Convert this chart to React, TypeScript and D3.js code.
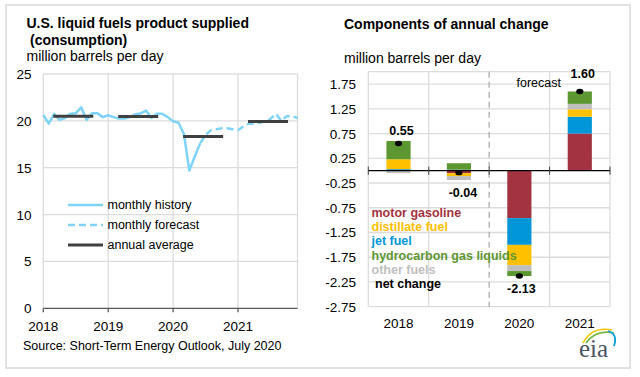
import React from 'react';
import * as d3 from 'd3';

// ---------- Left chart data ----------
const years = ['2018', '2019', '2020', '2021'];
// Jan 2018 - Jun 2020 (history)
const monthlyHistory = [
  20.64, 19.7, 20.75, 20.1, 20.3, 20.75, 20.8, 21.45, 20.1, 20.8, 20.8, 20.4,
  20.6, 20.4, 20.25, 20.25, 20.4, 20.7, 20.8, 21.1, 20.3, 20.75, 20.75, 20.4,
  19.95, 19.8, 18.6, 14.7, 16.2, 17.6,
];
// Jul 2020 - Dec 2021 (forecast)
const monthlyForecast = [
  18.5, 19.0, 19.1, 19.2, 19.2, 19.1,
  19.0, 19.4, 19.7, 19.7, 19.8, 20.0, 20.2, 20.75, 20.0, 20.5, 20.5, 20.3,
];
const annualAverage = [20.5, 20.46, 18.33, 19.93];
const leftYTicks = [0, 5, 10, 15, 20, 25];

// ---------- Right chart data ----------
const motorGasoline = [0.0, -0.05, -0.96, 0.75];
const jetFuel = [0.03, 0.02, -0.54, 0.34];
const distillateFuel = [0.2, -0.06, -0.41, 0.15];
const otherFuels = [-0.05, -0.08, -0.12, 0.11];
const hydrocarbonGasLiquids = [0.37, 0.13, -0.1, 0.25];
const netChange = [0.55, -0.04, -2.13, 1.6];
const netLabels = ['0.55', '-0.04', '-2.13', '1.60'];
const rightYTicks = [1.75, 1.25, 0.75, 0.25, -0.25, -0.75, -1.25, -1.75, -2.25, -2.75];

const stackKeys = ['mg', 'jet', 'dist', 'other', 'hgl'];
const colors: Record<string, string> = {
  mg: '#a33340',
  jet: '#0096d7',
  dist: '#ffc000',
  other: '#bfbfbf',
  hgl: '#5d9732',
};
const legendItems = [
  { label: 'motor gasoline', color: '#a33340' },
  { label: 'distillate fuel', color: '#ffc000' },
  { label: 'jet fuel', color: '#0096d7' },
  { label: 'hydrocarbon gas liquids', color: '#5d9732' },
  { label: 'other fuels', color: '#bfbfbf' },
  { label: 'net change', color: '#000000' },
];

const FONT = '"Liberation Sans", Arial, sans-serif';
const GRID = '#dcdcdc';
const LINE_BLUE = '#7fd3f7';

export default function App() {
  // Left scales
  const xL = d3.scaleLinear().domain([0, 47]).range([43.3, 297.5]);
  const yL = d3.scaleLinear().domain([0, 25]).range([308.3, 74]);
  const line = d3
    .line<number>()
    .x((_, i) => xL(i))
    .y((d) => yL(d));
  const histPath = line(monthlyHistory) || '';
  const fcData = [monthlyHistory[monthlyHistory.length - 1], ...monthlyForecast];
  const fcLine = d3
    .line<number>()
    .x((_, i) => xL(i + monthlyHistory.length - 1))
    .y((d) => yL(d));
  const fcPath = fcLine(fcData) || '';

  // Right scales
  const xR = d3.scaleBand<string>().domain(years).range([368.3, 610]).padding(0);
  const yR = d3.scaleLinear().domain([-2.75, 2.0]).range([306.7, 71.7]);
  const barW = xR.bandwidth() * 0.4;
  const table = years.map((y, i) => ({
    year: y,
    mg: motorGasoline[i],
    jet: jetFuel[i],
    dist: distillateFuel[i],
    other: otherFuels[i],
    hgl: hydrocarbonGasLiquids[i],
  }));
  const series = d3
    .stack<any>()
    .keys(stackKeys)
    .offset(d3.stackOffsetDiverging)(table);

  const plotL = 368.3;
  const plotR = 610;

  return (
    <svg
      width={640}
      height={377}
      style={{ position: 'absolute', left: 0, top: 0, background: '#fff' }}
      fontFamily={FONT}
    >
      <rect x={0} y={0} width={640} height={377} fill="#fff" />
      <rect x={6} y={5} width={624} height={363} fill="none" stroke="#d9d9d9" strokeWidth={1.5} />

      {/* ---------- Left chart ---------- */}
      <text x={26.5} y={28.3} fontSize={14} fontWeight="bold" fill="#000">
        U.S. liquid fuels product supplied
      </text>
      <text x={30} y={45} fontSize={14} fontWeight="bold" fill="#000">
        (consumption)
      </text>
      <text x={26.5} y={61} fontSize={14} fill="#000">
        million barrels per day
      </text>

      {leftYTicks.filter((t) => t > 0).map((t) => (
        <line key={t} x1={xL(0)} x2={xL(47)} y1={yL(t)} y2={yL(t)} stroke={GRID} strokeWidth={1.3} />
      ))}
      {years.map((y, i) => (
        <line key={y} x1={xL(i * 12)} x2={xL(i * 12)} y1={yL(25)} y2={yL(0)} stroke={GRID} strokeWidth={1.3} />
      ))}
      <line x1={xL(47)} x2={xL(47)} y1={yL(25)} y2={yL(0)} stroke={GRID} strokeWidth={1.3} />
      <line x1={xL(0)} x2={xL(47)} y1={yL(0)} y2={yL(0)} stroke="#595959" strokeWidth={1.3} />
      {years.map((y, i) => (
        <line key={'t' + y} x1={xL(i * 12)} x2={xL(i * 12)} y1={yL(0)} y2={yL(0) + 4} stroke="#595959" strokeWidth={1.3} />
      ))}
      {leftYTicks.map((t) => (
        <text key={t} x={31.5} y={yL(t) + 5} fontSize={13.5} textAnchor="end" fill="#000">
          {t}
        </text>
      ))}
      {years.map((y, i) => (
        <text key={'l' + y} x={xL(i * 12)} y={330.5} fontSize={13.5} textAnchor="middle" fill="#000">
          {y}
        </text>
      ))}

      <path d={histPath} fill="none" stroke={LINE_BLUE} strokeWidth={2.5} strokeLinejoin="round" />
      <path d={fcPath} fill="none" stroke={LINE_BLUE} strokeWidth={2.5} strokeDasharray="7,4" />
      {annualAverage.map((v, i) => (
        <line
          key={'a' + i}
          x1={xL(i * 12 + 1.85)}
          x2={xL(i * 12 + 9.25)}
          y1={yL(v)}
          y2={yL(v)}
          stroke="#404040"
          strokeWidth={3}
        />
      ))}

      {/* legend */}
      <line x1={68} x2={103} y1={205} y2={205} stroke={LINE_BLUE} strokeWidth={2.5} />
      <line x1={68} x2={103} y1={225} y2={225} stroke={LINE_BLUE} strokeWidth={2.5} strokeDasharray="7,4" />
      <line x1={68} x2={103} y1={245} y2={245} stroke="#404040" strokeWidth={3} />
      <text x={107.5} y={209.3} fontSize={12.5} fill="#000">monthly history</text>
      <text x={107.5} y={229.3} fontSize={12.5} fill="#000">monthly forecast</text>
      <text x={107.5} y={249.3} fontSize={12.5} fill="#000">annual average</text>

      <text x={23} y={350} fontSize={12.5} fill="#000">
        Source: Short-Term Energy Outlook, July 2020
      </text>

      {/* ---------- Right chart ---------- */}
      <text x={344} y={29.3} fontSize={14} fontWeight="bold" fill="#000">
        Components of annual change
      </text>
      <text x={344} y={62.5} fontSize={14} fill="#000">
        million barrels per day
      </text>

      {/* grid */}
      <line x1={plotL} x2={plotR} y1={yR(2)} y2={yR(2)} stroke={GRID} strokeWidth={1.3} />
      {rightYTicks.map((t) => (
        <line key={'g' + t} x1={plotL} x2={plotR} y1={yR(t)} y2={yR(t)} stroke={GRID} strokeWidth={1.3} />
      ))}
      {[plotL, (xR('2019') as number), (xR('2021') as number), plotR].map((x, i) => (
        <line key={'v' + i} x1={x} x2={x} y1={yR(2)} y2={yR(-2.75)} stroke={GRID} strokeWidth={1.3} />
      ))}
      <line
        x1={xR('2020') as number}
        x2={xR('2020') as number}
        y1={yR(2)}
        y2={yR(-2.75)}
        stroke="#a6a6a6"
        strokeWidth={1.2}
        strokeDasharray="6,4"
      />
      {rightYTicks.map((t) => (
        <text key={'yt' + t} x={356} y={yR(t) + 5} fontSize={13.5} textAnchor="end" fill="#000">
          {t.toFixed(2)}
        </text>
      ))}
      {years.map((y) => (
        <text key={'xr' + y} x={(xR(y) as number) + xR.bandwidth() / 2} y={328} fontSize={13.5} textAnchor="middle" fill="#000">
          {y}
        </text>
      ))}

      {/* bars */}
      {series.map((s) => (
        <g key={s.key} fill={colors[s.key]}>
          {s.map((d, i) => {
            const y0 = yR(d[0]);
            const y1 = yR(d[1]);
            const h = Math.abs(y0 - y1);
            if (h < 0.01) return null;
            return (
              <rect
                key={i}
                x={(xR(years[i]) as number) + (xR.bandwidth() - barW) / 2}
                y={Math.min(y0, y1)}
                width={barW}
                height={h}
              />
            );
          })}
        </g>
      ))}

      {/* zero axis */}
      <line x1={plotL} x2={plotR} y1={yR(0)} y2={yR(0)} stroke="#000" strokeWidth={1.2} />
      {[plotL, ...years.slice(1).map((y) => xR(y) as number), plotR].map((x, i) => (
        <line key={'zt' + i} x1={x} x2={x} y1={yR(0) - 4} y2={yR(0) + 4} stroke="#404040" strokeWidth={1} />
      ))}

      {/* net change dots and labels */}
      {netChange.map((v, i) => (
        <ellipse
          key={'n' + i}
          cx={(xR(years[i]) as number) + xR.bandwidth() / 2}
          cy={yR(v)}
          rx={3.6}
          ry={2.7}
          fill="#000"
        />
      ))}
      {netChange.map((v, i) => {
        const cx = (xR(years[i]) as number) + xR.bandwidth() / 2;
        const posY = [135, 197, 293.3, 78.3][i];
        const dx = [3, 4, 2, 3][i];
        return (
          <text key={'nl' + i} x={cx + dx} y={posY} fontSize={12.5} fontWeight="bold" textAnchor="middle" fill="#000">
            {netLabels[i]}
          </text>
        );
      })}
      <text x={516.5} y={86.5} fontSize={12.5} fill="#000">forecast</text>

      {/* legend */}
      {legendItems.map((it, i) => (
        <text
          key={it.label}
          x={it.label === 'net change' ? 375 : 371.5}
          y={216.7 + i * 14.35}
          fontSize={12.5}
          fontWeight="bold"
          fill={it.color}
        >
          {it.label}
        </text>
      ))}

      {/* eia logo */}
      <g>
        <path d="M583,343 Q592,326 612,330" fill="none" stroke="#f2c500" strokeWidth={1.6} />
        <path d="M586,343 Q596,329 614,333" fill="none" stroke="#7ab648" strokeWidth={1.6} />
        <path d="M608,331 Q618,334 614,346" fill="none" stroke="#0a9bd7" strokeWidth={1.8} />
        <text x={579} y={356.5} fontSize={25} fontFamily='"Liberation Serif", "DejaVu Serif", serif' fill="#4a5563">
          eia
        </text>
      </g>
    </svg>
  );
}
